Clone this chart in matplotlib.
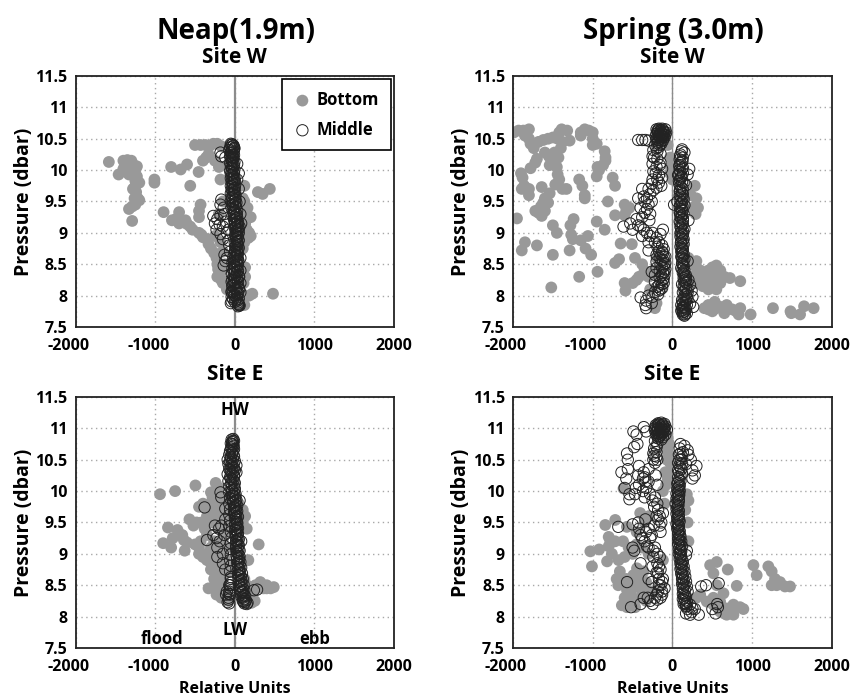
import matplotlib
matplotlib.use('Agg')
import matplotlib.pyplot as plt
from matplotlib.transforms import ScaledTranslation
import numpy as np

plt.rcParams['font.family'] = ['Open Sans', 'DejaVu Sans']
plt.rcParams['font.weight'] = 'bold'
plt.rcParams['axes.unicode_minus'] = False

x_ticks = [-2000, -1000, 0, 1000, 2000]
y_ticks = [7.5, 8, 8.5, 9, 9.5, 10, 10.5, 11, 11.5]
y_tick_labels = ['7.5', '8', '8.5', '9', '9.5', '10', '10.5', '11', '11.5']

# values: (relative units, pressure)
neap_w_bottom = [(-1583,10.13),(-1400,10.15),(-1350,10.16),(-1300,10.15),(-1380,10.08),(-1330,10.08),(-1270,10.08),(-1230,10.06),
    (-1400,10.02),(-1350,10.0),(-1300,10.0),(-1250,10.0),(-1460,9.93),(-1330,9.93),(-1230,9.9),(-1250,9.83),(-1200,9.8),(-1250,9.75),
    (-1280,9.7),(-1240,9.65),(-1260,9.55),(-1220,9.55),(-1200,9.52),(-1250,9.45),(-1330,9.38),(-1290,9.42),(-1290,9.19),
    (-1010,9.85),(-1010,9.8),(-800,10.05),(-680,10.01),(-600,10.09),(-455,9.97),(-560,9.75),(-895,9.33),(-790,9.2),(-700,9.33),
    (-740,9.22),(-700,9.15),(-620,9.2),(-600,9.14),(-560,9.1),(-530,9.05),(-450,9.0),(-420,8.97),(-400,8.93),(-350,8.9),(-330,8.82),
    (-300,8.75),(-260,8.68),(-230,8.6),(-220,8.5),(-210,8.42),(-220,8.3),(-170,8.4),(-170,8.25),(-150,8.2),(-120,8.5),(-100,8.1),
    (-500,10.4),(-430,10.4),(-370,10.4),(-320,10.38),(-270,10.42),(-220,10.42),(-170,10.38),(-330,10.25),(-400,10.15),(-360,10.2),
    (-250,10.15),(-200,10.05),(-430,9.45),(-450,9.35),(-450,9.25),(-180,9.85),(-150,9.5),(-200,9.3),(-250,8.95),(-180,8.85),(-150,8.7),
    (100,9.55),(120,9.5),(160,9.4),(140,9.3),(200,9.25),(130,9.15),(150,9.05),(180,9.0),(200,8.95),(170,8.92),(120,8.85),(100,8.75),
    (120,9.75),(290,9.65),(350,9.62),(440,9.7),(480,8.03),(220,8.03),(180,8.0),(140,8.0),(100,8.35),(130,8.3),(110,8.2),(130,8.45),(80,7.88),(120,7.85)]
neap_w_middle = [(-50,10.42),(-30,10.41),(-20,10.38),(-60,10.36),(-10,10.33),(-70,10.32),(-50,10.28),(-30,10.25),(-60,10.22),(-20,10.2),
    (-50,10.17),(-30,10.14),(-60,10.11),(-10,10.08),(-50,10.05),(-30,10.02),(-60,9.99),(-10,9.96),(-50,9.93),(-20,9.9),(-50,9.87),(0,9.84),
    (-40,9.81),(-20,9.78),(-50,9.75),(0,9.72),(-40,9.69),(-10,9.66),(-50,9.63),(10,9.6),(-40,9.57),(0,9.54),(-50,9.51),(20,9.48),(-30,9.45),
    (10,9.42),(-40,9.39),(30,9.36),(-20,9.33),(20,9.3),(-30,9.27),(30,9.24),(-10,9.21),(40,9.18),(0,9.15),(40,9.12),(10,9.09),(50,9.06),
    (20,9.03),(50,9.0),(10,8.97),(40,8.94),(20,8.91),(50,8.88),(30,8.85),(40,8.82),(10,8.79),(50,8.76),(30,8.73),(0,8.7),(40,8.67),(20,8.64),
    (-20,8.61),(40,8.58),(10,8.55),(-30,8.52),(40,8.49),(10,8.46),(-30,8.43),(40,8.4),(0,8.37),(-40,8.34),(50,8.31),(0,8.28),(-30,8.25),
    (40,8.22),(0,8.19),(-30,8.16),(50,8.13),(10,8.1),(-40,8.07),(40,8.04),(0,8.01),(-40,7.98),(50,7.95),(10,7.93),(-40,7.91),(40,7.89),
    (50,7.86),(60,7.84),(40,7.83),(-50,7.88),(30,10.1),(50,9.95),(-10,10.35),(-180,10.28),(-170,10.22),(-120,10.2),
    (30,9.85),(50,9.7),(60,9.5),(70,9.3),(80,9.15),(60,9.1),(-170,9.53),(-180,9.45),(-140,9.4),(-130,9.3),(-270,9.27),(-220,9.22),
    (-180,9.28),(-250,9.15),(-190,9.13),(-110,9.18),(-230,9.05),(-150,9.1),(-80,9.05),(-180,8.98),(-100,9.0),(-150,8.9),(-80,8.88),
    (-130,8.65),(-120,8.55),(-100,8.6),(-140,8.48),(-70,8.8),(-60,8.7),(70,8.6),(70,8.4),(70,8.2),(70,8.05)]
neap_w_core = [(-45,10.4),(-15,10.39),(-40,10.37),(-5,10.35),(-35,10.31),(-15,10.29),(-45,10.27),(-10,10.24),(-40,10.21),(-20,10.19),(-35,10.16),
    (-5,10.13),(-40,10.1),(-20,10.07),(-35,10.04),(-5,10.01),(-40,9.98),(-15,9.95),(-35,9.92),(-5,9.89),(-30,9.86),(-10,9.83),(-30,9.8),(5,9.77),
    (-30,9.74),(-10,9.71),(-30,9.68),(5,9.65),(-25,9.62),(-5,9.59),(-30,9.56),(10,9.53),(-20,9.5),(5,9.47),(-25,9.44),(15,9.41),(-15,9.38),(5,9.35),
    (-10,9.32),(25,9.29),(-5,9.26),(15,9.23),(0,9.2),(30,9.17),(5,9.14),(25,9.11),(0,9.08),(35,9.05),(10,9.02),(30,8.99),(5,8.96),(35,8.93),(10,8.9),
    (30,8.87),(0,8.84),(25,8.81),(5,8.78),(35,8.75),(5,8.72),(25,8.69),(-5,8.66),(30,8.63),(0,8.6),(25,8.57),(-10,8.54),(30,8.51),(-5,8.48),(25,8.45),
    (-10,8.42),(30,8.39),(-5,8.36),(20,8.33),(-15,8.3),(30,8.27),(-10,8.24),(20,8.21),(-15,8.18),(35,8.15),(-5,8.12),(20,8.09),(-20,8.06),(30,8.03),
    (-10,8.0),(25,7.97),(-20,7.94),(35,7.92),(0,7.9),(45,7.87),(55,7.85),(-30,8.15),(-30,8.35),(45,8.55),(-40,8.05),(-40,8.22),(55,8.3),(55,8.1)]

spring_w_bottom = [(-1990,10.6),(-1930,10.63),(-1870,10.63),(-1800,10.65),(-1850,10.55),(-1800,10.5),(-1780,10.42),(-1740,10.35),(-1680,10.45),
    (-1620,10.48),(-1560,10.5),(-1500,10.52),(-1420,10.6),(-1390,10.65),(-1320,10.63),(-1440,10.5),(-1380,10.45),(-1290,10.47),(-1400,10.35),
    (-1480,10.28),(-1550,10.22),(-1600,10.28),(-1430,10.2),(-1500,10.15),(-1540,10.08),(-1450,10.05),(-1440,9.93),(-1420,9.85),(-1470,9.77),
    (-1330,9.7),(-1380,9.7),(-1150,10.6),(-1100,10.65),(-1050,10.63),(-1000,10.6),(-1150,10.55),(-1000,10.5),(-1000,10.4),(-950,10.42),
    (-850,10.3),(-840,10.2),(-840,10.15),(-870,10.08),(-940,10.05),(-920,10.0),(-950,9.9),(-1900,9.95),(-1880,9.88),(-1860,9.75),(-1800,9.7),
    (-1890,9.7),(-1800,9.6),(-1640,9.73),(-1780,10.03),(-1720,10.12),(-1700,10.18),(-1540,9.63),(-1600,9.55),(-1620,9.48),(-1650,9.42),
    (-1720,9.35),(-1680,9.32),(-1640,9.27),(-1560,9.48),(-1600,9.35),(-1950,9.23),(-1500,9.12),(-1450,9.0),(-1280,9.12),(-1240,9.22),
    (-1270,8.97),(-1250,8.9),(-1150,8.88),(-1060,8.95),(-1090,8.75),(-1020,8.65),(-1850,8.85),(-1890,8.72),(-1700,8.8),(-1500,8.65),
    (-1290,8.72),(-1170,9.85),(-1130,9.75),(-1100,9.55),(-1100,9.6),(-950,9.18),(-850,9.05),(-750,9.88),(-720,9.75),(-810,9.5),(-720,9.28),
    (-650,8.83),(-510,8.82),(-720,8.52),(-670,8.58),(-470,8.6),(-940,8.38),(-1170,8.3),(-1520,8.13),(-600,9.45),(-580,9.35),(-600,9.28),
    (-540,9.4),(-600,8.2),(-590,8.08),(-500,8.2),(-450,8.25),(-420,8.3),(-380,8.5),(-350,8.4),(-300,8.3),(-230,8.4),(-200,8.6),(-200,7.88),
    (-220,7.8),(-280,8.1),(-100,10.5),(-60,10.4),(-30,10.2),(-20,10.05),(-30,9.95),(0,9.85),(280,9.75),(300,9.55),(320,9.4),(290,9.3),(250,9.4),
    (230,9.6),(200,8.6),(250,8.5),(300,8.45),(350,8.4),(400,8.35),(450,8.4),(500,8.45),(550,8.48),(600,8.4),(450,8.3),(500,8.3),(550,8.25),
    (600,8.2),(650,8.3),(500,8.15),(450,8.1),(550,8.1),(720,8.28),(850,8.23),(300,8.55),(400,7.8),(450,7.85),(500,7.85),(530,7.9),(450,7.78),
    (500,7.75),(550,7.8),(600,7.82),(650,7.72),(680,7.85),(700,7.8),(750,7.78),(800,7.75),(850,7.8),(830,7.7),(980,7.7),(1260,7.8),(1480,7.75),
    (1490,7.72),(1600,7.7),(1650,7.83),(1770,7.8),(350,8.3),(400,8.25),(300,8.2),(380,8.15),(250,8.3),(300,8.35)]
spring_w_middle = [(-430,10.48),(-380,10.48),(-340,10.48),(-300,10.47),(-200,10.65),(-170,10.66),(-130,10.66),(-90,10.65),(-190,10.62),(-150,10.62),
    (-110,10.62),(-80,10.6),(-200,10.58),(-160,10.58),(-120,10.58),(-90,10.56),(-210,10.54),(-170,10.54),(-130,10.54),(-100,10.52),(-200,10.5),
    (-150,10.5),(-120,10.47),(-180,10.45),(-140,10.42),(-220,10.4),(-170,10.37),(-240,10.32),(-190,10.3),(-150,10.26),(-250,10.22),(-190,10.18),
    (-150,10.12),(-250,10.1),(-200,10.05),(-130,10.02),(-240,9.98),(-170,9.92),(-130,9.88),(-250,9.85),(-170,9.8),(-140,9.75),(-260,9.78),(-200,9.72),
    (-300,9.7),(-280,9.62),(-380,9.7),(-430,9.55),(-360,9.58),(-350,9.5),(-300,9.45),(-400,9.4),(-280,9.3),(-350,9.32),(-450,9.22),(-614,9.1),(-530,9.15),
    (-500,9.05),(-400,9.1),(-320,9.0),(-380,8.95),(-300,8.85),(-250,9.0),(-120,9.05),(-150,8.98),(-300,8.72),(-200,8.92),(-170,8.85),(-130,8.8),
    (-190,8.78),(-110,8.74),(-170,8.71),(-120,8.68),(-200,8.65),(-90,8.62),(-160,8.6),(-120,8.57),(-200,8.54),(-90,8.52),(-150,8.5),(-110,8.47),
    (-200,8.44),(-90,8.42),(-160,8.39),(-120,8.36),(-260,8.38),(-220,8.33),(-100,8.33),(-160,8.29),(-120,8.25),(-220,8.22),(-130,8.18),(-190,8.14),
    (-150,8.1),(-220,8.06),(-180,8.02),(-300,8.0),(-250,7.98),(-400,7.97),(-330,7.92),(-340,7.85),(-330,7.8),(-260,7.88),
    (120,10.33),(150,10.28),(100,10.25),(130,10.2),(90,10.17),(120,10.13),(90,10.08),(130,10.04),(210,10.02),(90,10.0),(190,9.93),(130,9.95),
    (70,9.92),(110,9.88),(80,9.83),(140,9.8),(170,9.76),(100,9.74),(130,9.7),(90,9.66),(130,9.62),(100,9.58),(140,9.54),(60,9.5),(110,9.47),(150,9.44),
    (90,9.41),(20,9.45),(120,9.37),(90,9.33),(140,9.3),(100,9.26),(130,9.22),(200,9.2),(90,9.18),(130,9.14),(100,9.1),(150,9.06),(110,9.02),(130,8.98),
    (100,8.94),(140,8.9),(110,8.86),(140,8.82),(100,8.78),(130,8.74),(110,8.7),(140,8.66),(110,8.62),(150,8.58),(190,8.55),(120,8.52),(140,8.48),(110,8.44),
    (150,8.4),(130,8.36),(170,8.32),(140,8.28),(200,8.25),(160,8.22),(120,8.18),(220,8.17),(150,8.13),(190,8.1),(240,8.08),(130,8.05),(170,8.02),
    (250,7.98),(190,7.95),(120,7.93),(160,7.9),(220,7.87),(110,7.85),(150,7.83),(260,7.82),(120,7.8),(170,7.78),(110,7.76),(140,7.74),(180,7.72),(130,7.7),(150,7.68)]
spring_w_core = [(-180,10.64),(-150,10.64),(-120,10.64),(-180,10.6),(-140,10.6),(-100,10.6),(-170,10.56),(-140,10.56),(-110,10.56),(-190,10.52),(-150,10.52),
    (-120,10.52),(-180,10.48),(-140,10.47),(-190,10.43),(-160,10.4),(-200,10.35),
    (115,10.3),(95,10.22),(125,10.15),(100,10.11),(85,10.06),(120,10.02),(100,9.97),(80,9.93),(115,9.9),(95,9.85),(120,9.81),(85,9.78),(115,9.72),(95,9.68),
    (120,9.64),(90,9.6),(125,9.56),(100,9.52),(120,9.49),(95,9.45),(125,9.42),(100,9.38),(125,9.35),(95,9.31),(120,9.28),(105,9.24),(130,9.2),(100,9.16),
    (125,9.12),(105,9.08),(130,9.04),(100,9.0),(125,8.96),(115,8.92),(130,8.88),(105,8.84),(125,8.8),(115,8.76),(125,8.72),(120,8.68),(130,8.64),(120,8.6),
    (135,8.56),(125,8.5),(135,8.46),(125,8.42),(140,8.38),(150,8.34),(155,8.3),(170,8.26),(145,8.24),(175,8.2),(140,8.15),(170,8.12),(150,8.08),(190,8.05),
    (150,8.0),(180,7.98),(140,7.95),(170,7.92),(130,7.88),(180,7.85),(135,7.82),(150,7.8),(130,7.77),(155,7.75),(125,7.73),(155,7.7),
    (-130,8.7),(-150,8.66),(-110,8.62),(-140,8.56),(-100,8.5),(-130,8.45),(-100,8.38),(-140,8.32),(-110,8.27),(-150,8.22),(-110,8.2),(-170,8.16),(-130,8.12),(-170,8.08),
    (-230,10.2),(-160,10.08),(-210,9.95),(-190,9.85),(-240,9.68),(-320,9.55),(-260,9.5),(-320,9.38),(-380,9.25),(-290,9.2),(-430,9.12),(-360,9.05),(-280,8.95),(-220,8.85)]

neap_e_bottom = [(-940,9.95),(-750,10.0),(-495,10.09),(-240,10.13),(-200,10.05),(-300,9.98),(-230,9.9),(-400,9.8),(-450,9.75),(-350,9.72),(-300,9.8),
    (-250,9.75),(-570,9.55),(-520,9.45),(-480,9.5),(-420,9.5),(-840,9.42),(-720,9.38),(-660,9.3),(-640,9.22),(-600,9.18),(-900,9.17),(-780,9.25),(-800,9.1),
    (-630,9.05),(-500,9.15),(-430,9.2),(-450,9.1),(-450,9.0),(-400,8.95),(-350,8.9),(-300,8.85),(-300,8.75),(-250,8.7),(-200,8.6),(-330,8.45),(-250,8.5),
    (-230,8.35),(-150,8.45),(-100,8.3),(-80,8.25),(300,9.15),(170,8.9),(150,9.4),(100,9.7),(100,9.5),(130,9.6),(200,8.4),(260,8.5),(320,8.55),(360,8.45),
    (400,8.45),(450,8.45),(490,8.47),(400,8.5),(250,8.25),(100,8.3),(50,9.8),(120,8.6),(-150,9.9),(-100,9.8),(-100,9.6),(-200,9.4),(-150,9.2),(-200,9.0),
    (-150,8.8),(-100,8.7),(-350,9.6),(-300,9.5),(-380,9.4),(-350,9.3),(-300,9.1),(-250,8.95),(-350,9.0),(-250,9.6),(-170,9.75),(-200,8.85),(-150,8.6),
    (-200,8.4),(-170,8.3),(-120,8.4),(170,8.3),(210,8.22),(150,8.5),(180,8.45),(240,8.4),(-300,9.65),(-200,9.55),(-150,9.45),(-260,9.2),(-200,9.15),(-160,9.05),
    (-280,9.0),(-240,8.85),(-260,8.6),(-200,8.75),(-170,8.5),(-130,8.95),(-130,9.65),(-180,9.65),(-280,9.9),(-120,8.85),(-100,9.1),(-100,9.35)]
neap_e_middle = [(-20,10.83),(-40,10.82),(-10,10.8),(-30,10.78),(-50,10.76),(-20,10.74),(-40,10.7),(-10,10.67),(-60,10.64),(-30,10.61),(-70,10.58),
    (-10,10.55),(-50,10.52),(-90,10.5),(0,10.48),(-40,10.45),(-80,10.43),(20,10.41),(-30,10.38),(-70,10.35),(0,10.33),(-50,10.3),(-90,10.27),(-10,10.25),
    (-60,10.22),(-30,10.19),(-80,10.16),(0,10.13),(-40,10.1),(-70,10.07),(0,10.04),(-30,10.01),(-70,9.98),(10,9.95),(-20,9.92),(-60,9.89),(20,9.86),(-20,9.83),
    (-70,9.8),(30,9.77),(0,9.74),(-60,9.71),(30,9.68),(0,9.65),(-70,9.62),(40,9.59),(10,9.56),(-60,9.53),(30,9.5),(10,9.47),(-70,9.44),(40,9.41),(10,9.38),
    (-50,9.35),(40,9.32),(20,9.29),(-40,9.26),(50,9.23),(20,9.2),(-50,9.17),(50,9.14),(20,9.11),(-60,9.08),(60,9.05),(30,9.02),(-50,8.99),(60,8.96),(30,8.93),
    (-60,8.9),(70,8.87),(40,8.84),(-50,8.81),(80,8.78),(50,8.75),(-60,8.72),(90,8.69),(50,8.66),(-50,8.63),(100,8.6),(60,8.57),(-50,8.54),(110,8.51),(70,8.48),
    (-60,8.45),(120,8.42),(90,8.39),(-70,8.36),(130,8.33),(100,8.3),(-80,8.27),(140,8.26),(110,8.24),(-90,8.23),(160,8.22),(120,8.21),(-70,8.21),(150,8.2),
    (-380,9.74),(-180,9.98),(-170,9.9),(-120,9.72),(-250,9.45),(-200,9.4),(-350,9.22),(-270,9.3),(-230,9.25),(-220,9.1),(-220,8.95),(-150,8.85),
    (-100,8.4),(-110,8.35),(240,8.42),(280,8.43),(-170,9.45),(-130,9.3),(-190,9.2),(-150,9.0),(-120,9.55),(20,10.3),(60,9.85),(80,9.2),(-120,8.75)]
neap_e_core = [(-25,10.8),(-35,10.75),(-15,10.72),(-45,10.68),(-20,10.64),(-40,10.6),(-15,10.57),(-50,10.54),(-25,10.5),(-60,10.47),(-15,10.44),(-45,10.41),(-10,10.37),
    (-55,10.34),(-20,10.31),(-40,10.28),(-10,10.23),(-50,10.2),(-15,10.17),(-45,10.13),(-10,10.09),(-40,10.05),(-5,10.02),(-35,9.99),(-5,9.96),(-30,9.93),(5,9.9),
    (-25,9.87),(10,9.84),(-20,9.81),(10,9.78),(-10,9.75),(15,9.72),(-10,9.69),(20,9.66),(-5,9.63),(20,9.6),(0,9.57),(25,9.54),(0,9.51),(30,9.48),(5,9.45),(25,9.42),
    (5,9.39),(30,9.36),(10,9.33),(35,9.3),(10,9.27),(35,9.24),(15,9.21),(35,9.18),(15,9.15),(40,9.12),(15,9.09),(45,9.06),(20,9.03),(45,9.0),(20,8.97),(50,8.94),
    (25,8.91),(50,8.88),(30,8.85),(60,8.82),(35,8.79),(60,8.76),(35,8.73),(65,8.7),(40,8.67),(75,8.64),(45,8.61),(80,8.58),(50,8.55),(85,8.52),(55,8.49),(95,8.46),
    (65,8.43),(100,8.4),(75,8.37),(110,8.34),(85,8.31),(120,8.28),(100,8.25),(130,8.23),(-70,8.5),(-70,8.4),(-80,8.3),(-50,8.6),(-60,8.5),(-60,8.35)]

spring_e_bottom = [(-1030,9.04),(-920,9.07),(-1010,8.8),(-718,9.54),(-843,9.46),(-800,9.27),(-780,9.2),(-720,9.2),(-620,9.2),(-800,9.12),(-820,8.88),
    (-760,9.0),(-676,8.9),(-700,8.6),(-660,8.72),(-550,8.55),(-570,8.42),(-635,8.18),(-468,8.15),(-405,8.3),(-490,8.66),(-445,8.77),(-363,8.72),
    (-405,9.65),(-572,9.43),(-614,10.04),(-680,8.5),(-580,8.6),(-450,8.5),(-400,8.45),(-330,8.55),(-300,8.4),(-500,9.0),(-450,9.15),(-550,9.1),
    (-520,8.2),(-570,8.15),(-100,10.7),(-70,10.5),(-50,10.3),(-80,10.1),(-100,9.8),(-60,10.85),(-50,10.6),(-90,10.3),(200,9.85),(180,9.95),(190,9.5),
    (160,9.7),(200,9.2),(472,8.82),(555,8.87),(513,8.69),(693,8.75),(806,8.49),(555,8.5),(347,8.35),(430,8.24),(513,8.3),(639,8.37),(597,8.24),(680,8.13),
    (764,8.19),(889,8.12),(764,8.03),(597,8.08),(680,8.03),(847,8.15),(513,8.19),(300,8.3),(650,8.05),(720,8.1),(620,8.15),(1015,8.82),(1056,8.66),
    (1202,8.8),(1244,8.72),(1286,8.6),(1244,8.5),(1349,8.55),(1411,8.48),(1474,8.48),(1307,8.5),(-40,10.75),(-30,10.45),(-60,10.2),(-120,10.0),(-350,9.5),
    (-300,9.6),(-450,9.35),(-380,9.1),(-300,9.0),(-600,8.95),(-440,8.6),(-380,8.55),(-500,8.45),(-600,8.3),(-500,8.3),(-330,8.25),(-250,8.4),(-120,8.9)]
spring_e_middle = [(-180,11.08),(-140,11.09),(-100,11.07),(-210,11.05),(-170,11.05),(-130,11.05),(-90,11.03),(-220,11.01),(-180,11.01),(-140,11.01),
    (-100,11.0),(-70,10.98),(-220,10.97),(-180,10.97),(-140,10.97),(-100,10.95),(-210,10.93),(-170,10.93),(-130,10.93),(-90,10.9),(-200,10.89),(-160,10.88),
    (-120,10.86),(-180,10.84),(-140,10.82),(-490,10.95),(-450,10.9),(-360,11.02),(-330,10.95),(-440,10.75),(-480,10.7),(-570,10.6),(-560,10.5),(-640,10.3),
    (-560,10.35),(-580,10.2),(-600,10.05),(-540,9.95),(-540,9.87),(-470,9.95),(-420,10.1),(-370,10.2),(-360,10.3),(-420,10.4),(-370,10.0),(-350,9.9),
    (-200,10.7),(-240,10.6),(-200,10.55),(-240,10.5),(-220,10.45),(-210,10.25),(-190,10.1),(-350,10.22),(-340,10.15),(-220,9.9),(-230,9.75),(-180,9.7),
    (-120,9.65),(-140,9.5),(-200,9.6),(-340,9.55),(-500,9.47),(-420,9.4),(-400,9.3),(-350,9.2),(-280,9.25),(-150,9.35),(-500,9.1),(-480,9.05),(-400,8.85),
    (-220,9.1),(-240,8.95),(-160,8.95),(-250,8.8),(-150,8.75),(-300,8.6),(-200,8.7),(-170,8.6),(-120,8.6),(-150,8.5),(-100,8.45),(-180,8.4),(-220,8.3),
    (-280,8.25),(-360,8.3),(-400,8.2),(-520,8.15),(-570,8.55),(-680,9.43),(-250,9.85),(-180,9.55),(-160,9.45),(-330,9.35),(-300,9.1),(-190,8.85),
    (-170,8.8),(-260,8.55),(-130,8.4),(-200,8.35),(-150,8.3),(-250,8.2),
    (100,10.75),(150,10.72),(190,10.65),(90,10.68),(130,10.62),(200,10.58),(80,10.58),(230,10.5),(110,10.5),(70,10.45),(170,10.43),(100,10.38),(300,10.4),
    (70,10.33),(250,10.33),(120,10.28),(280,10.25),(70,10.22),(250,10.2),(100,10.16),(60,10.12),(90,10.08),(60,10.04),(90,10.0),(50,9.96),(80,9.92),(50,9.88),
    (80,9.84),(40,9.8),(70,9.76),(50,9.72),(80,9.68),(50,9.64),(80,9.6),(60,9.56),(90,9.52),(50,9.48),(80,9.44),(60,9.4),(90,9.36),(70,9.32),(100,9.28),(70,9.24),
    (110,9.2),(70,9.16),(120,9.12),(80,9.08),(180,9.05),(110,9.04),(80,9.0),(170,8.98),(110,8.96),(90,8.92),(130,8.88),(100,8.84),(140,8.8),(100,8.76),(150,8.72),
    (110,8.68),(160,8.64),(120,8.6),(170,8.56),(120,8.52),(180,8.48),(130,8.44),(190,8.4),(130,8.36),(170,8.32),(130,8.28),(180,8.24),(140,8.2),(220,8.19),
    (170,8.16),(250,8.13),(190,8.12),(170,8.05),(240,8.07),(330,8.03),(220,8.03),(280,8.12),
    (360,8.48),(420,8.5),(580,8.53),(500,8.12),(540,8.05),(570,8.15),(560,8.2)]
spring_e_core = [(-170,11.07),(-120,11.06),(-200,11.03),(-150,11.03),(-110,11.02),(-190,10.99),(-150,10.99),(-110,10.98),(-200,10.95),(-160,10.95),(-120,10.94),
    (-180,10.91),(-140,10.9),(-170,10.86),(-220,10.8),(-190,10.75),(-230,10.68),(-200,10.62),(-230,10.56),(-190,10.5),
    (100,10.6),(120,10.55),(85,10.5),(120,10.44),(85,10.4),(110,10.35),(80,10.3),(100,10.25),(85,10.19),(70,10.14),(85,10.1),(75,10.06),(85,10.02),(70,9.98),(85,9.94),
    (65,9.9),(80,9.86),(65,9.82),(75,9.78),(60,9.74),(75,9.7),(65,9.66),(75,9.62),(65,9.58),(80,9.54),(65,9.5),(75,9.46),(70,9.42),(85,9.38),(75,9.34),(90,9.3),(80,9.26),
    (90,9.22),(85,9.18),(100,9.14),(90,9.1),(105,9.06),(95,9.02),(105,8.98),(100,8.94),(115,8.9),(105,8.86),(120,8.82),(110,8.78),(125,8.74),(115,8.7),(130,8.66),
    (125,8.62),(140,8.58),(130,8.54),(150,8.5),(135,8.46),(155,8.42),(140,8.38),(155,8.34),(145,8.3),(160,8.26),(150,8.22),(170,8.2),(180,8.17),
    (-190,9.8),(-160,9.6),(-230,9.45),(-300,9.4),(-260,9.3),(-380,9.25),(-320,9.12),(-240,9.05),(-190,9.0),(-180,8.7),(-130,8.55),(-170,8.5),(-130,8.35),(-190,8.27),(-310,8.3),
    (-430,9.5),(-300,10.35),(-430,10.25),(-300,10.15),(-460,10.05),(-280,9.95),(-330,10.05)]

sites = ['Site W', 'Site W', 'Site E', 'Site E']
bottoms = [neap_w_bottom, spring_w_bottom, neap_e_bottom, spring_e_bottom]
middles = [neap_w_middle + neap_w_core, spring_w_middle + spring_w_core,
           neap_e_middle + neap_e_core, spring_e_middle + spring_e_core]
rects = [[0.0886, 0.5322, 0.3727, 0.3591], [0.6007, 0.5322, 0.3735, 0.3591],
         [0.0886, 0.0730, 0.3727, 0.3591], [0.6007, 0.0730, 0.3735, 0.3591]]

fig = plt.figure(figsize=(8.54, 6.99), dpi=100)
axes = []
for i in range(4):
    ax = fig.add_axes(rects[i])
    bx, by = np.array(bottoms[i]).T
    mx, my = np.array(middles[i]).T
    # zero line sits under the points
    ax.axvline(0, color='#8c8c8c', lw=1.6 if i % 2 == 0 else 1.0, zorder=1)
    ax.scatter(bx, by, s=72, c='#999999', edgecolors='none', zorder=2, label='Bottom')
    ax.scatter(mx, my, s=66, facecolors='none', edgecolors='#222222', linewidths=0.7, zorder=3, label='Middle')
    ax.set_xlim(-2000, 2000)
    ax.set_ylim(7.5, 11.5)
    ax.set_xticks(x_ticks)
    ax.set_yticks(y_ticks)
    ax.set_yticklabels(y_tick_labels)
    ax.tick_params(axis='both', length=0, labelsize=11.5)
    ax.tick_params(axis='x', pad=8)
    ax.tick_params(axis='y', pad=6)
    # negative labels sit a little left of their ticks in the original
    for t, lab in zip(x_ticks, ax.get_xticklabels()):
        if t < 0:
            lab.set_transform(lab.get_transform() + ScaledTranslation(-7 / 100, 0, fig.dpi_scale_trans))
    ax.grid(True, color='#a8a8a8', linestyle=(0, (1, 2.5)), linewidth=1.0)
    ax.set_axisbelow(True)
    ax.set_ylabel('Pressure (dbar)', fontsize=14, fontweight='bold', labelpad=1)
    ax.set_title(sites[i], fontsize=15, fontweight='bold', pad=9 if i < 2 else 12)
    for s in ax.spines.values():
        s.set_linewidth(1.3)
        s.set_color('#222222')
    if i >= 2:
        ax.set_xlabel('Relative Units', fontsize=11.5, fontweight='bold', labelpad=4)
    axes.append(ax)

leg = axes[0].legend(loc='upper right', fontsize=12, frameon=True, fancybox=False, edgecolor='black', framealpha=1,
                     borderaxespad=0.2, labelspacing=0.7, handlelength=1.0, handletextpad=0.35, borderpad=0.7, scatterpoints=1)
leg.get_frame().set_linewidth(1.2)

axes[2].text(0, 11.3, 'HW', ha='center', va='center', fontsize=12)
axes[2].text(0, 7.79, 'LW', ha='center', va='center', fontsize=12)
axes[2].text(-917, 7.65, 'flood', ha='center', va='center', fontsize=12)
axes[2].text(1000, 7.65, 'ebb', ha='center', va='center', fontsize=12)

fig.text(0.2763, 0.955, 'Neap(1.9m)', ha='center', va='center', fontsize=20)
fig.text(0.7880, 0.955, 'Spring (3.0m)', ha='center', va='center', fontsize=20)

fig.savefig('out.png', dpi=100)
